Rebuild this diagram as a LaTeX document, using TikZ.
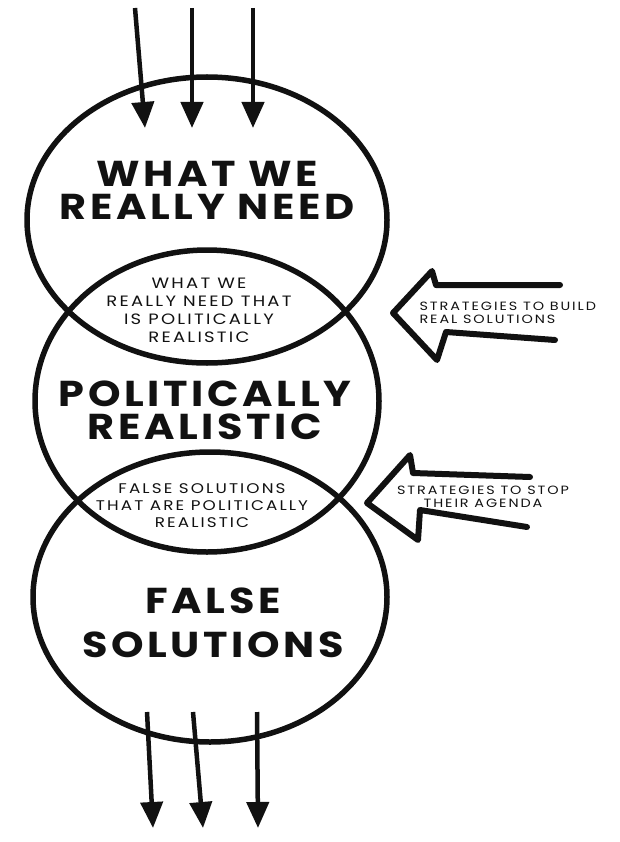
\documentclass[tikz,border=0pt]{standalone}
\usepackage{fontspec}
\setmainfont{Poppins}
\newfontfamily\bigfont[FakeStretch=1.15, LetterSpace=10]{Poppins}
\newfontfamily\lensfont[FakeStretch=1.2, LetterSpace=15]{Poppins}
\newfontfamily\sidefont[FakeStretch=1.2, LetterSpace=16]{Poppins}
\usetikzlibrary{arrows.meta, shapes.geometric}
\definecolor{inkdark}{HTML}{111111}
\tikzset{
  bubble/.style={draw=inkdark, line width=5.5pt, ellipse, inner sep=0pt},
  bigtext/.style={font=\bigfont\bfseries\fontsize{36}{33}\selectfont, align=center, text=inkdark},
  lenstext/.style={font=\lensfont\fontsize{15}{18}\selectfont, align=center, text=inkdark},
  sidetext/.style={font=\sidefont\fontsize{12}{13}\selectfont, text=inkdark},
  flow/.style={-{Triangle[length=26pt,width=22pt]}, line width=4.5pt, draw=inkdark},
  hollow/.style={line width=6pt, line join=round, line cap=round, draw=inkdark}
}
\newcommand{\inflow}[3]{%
  \coordinate (#1a) at (#2,8);
  \coordinate (#1b) at (#3,128);
  \draw[flow] (#1a) -- (#1b);}
\newcommand{\outflow}[3]{%
  \coordinate (#1a) at (#2,712);
  \coordinate (#1b) at (#3,828);
  \draw[flow] (#1a) -- (#1b);}

\begin{document}
\begin{tikzpicture}[x=1pt, y=-1pt]
      \useasboundingbox (0,0) rectangle (619,842);
      \node[bubble, minimum width=360pt, minimum height=286pt] (need) at (207,220) {};
      \node[bubble, minimum width=344pt, minimum height=302pt] (real) at (207,401) {};
      \node[bubble, minimum width=354pt, minimum height=290pt] (false) at (210,597) {};
      \node[bigtext] (needlbl) at (207,190) {WHAT WE\\REALLY NEED};
      \node[bigtext] (reallbl) at (205,410) {POLITICALLY\\REALISTIC};
      \node[bigtext, font=\bigfont\bfseries\fontsize{36}{44}\selectfont] (falselbl) at (213,623) {FALSE\\SOLUTIONS};
      \node[lenstext] (toplens) at (199,310) {WHAT WE\\REALLY NEED THAT\\IS POLITICALLY\\REALISTIC};
      \node[lenstext, font=\lensfont\fontsize{14}{17}\selectfont] (lowlens) at (202,506) {FALSE SOLUTIONS\\THAT ARE POLITICALLY\\REALISTIC};
      \inflow{t1}{135}{145}
      \inflow{t2}{192}{192}
      \inflow{t3}{253}{253}
      \outflow{b1}{147}{153}
      \outflow{b2}{193}{203}
      \outflow{b3}{257}{258}
      \draw[hollow] (560,285) -- (436,285) -- (432,271) -- (393,313) -- (437,360) -- (446,332) -- (555,340);
      \draw[hollow] (530,477) -- (413,473) -- (410,455) -- (367,503) -- (418,540) -- (420,510) -- (527,527);
      \node[sidetext, anchor=west, align=left] (buildlbl) at (416,313) {STRATEGIES TO BUILD\\REAL SOLUTIONS};
      \node[sidetext, align=center] (stoplbl) at (483,497) {STRATEGIES TO STOP\\THEIR AGENDA};
    \end{tikzpicture}
\end{document}
